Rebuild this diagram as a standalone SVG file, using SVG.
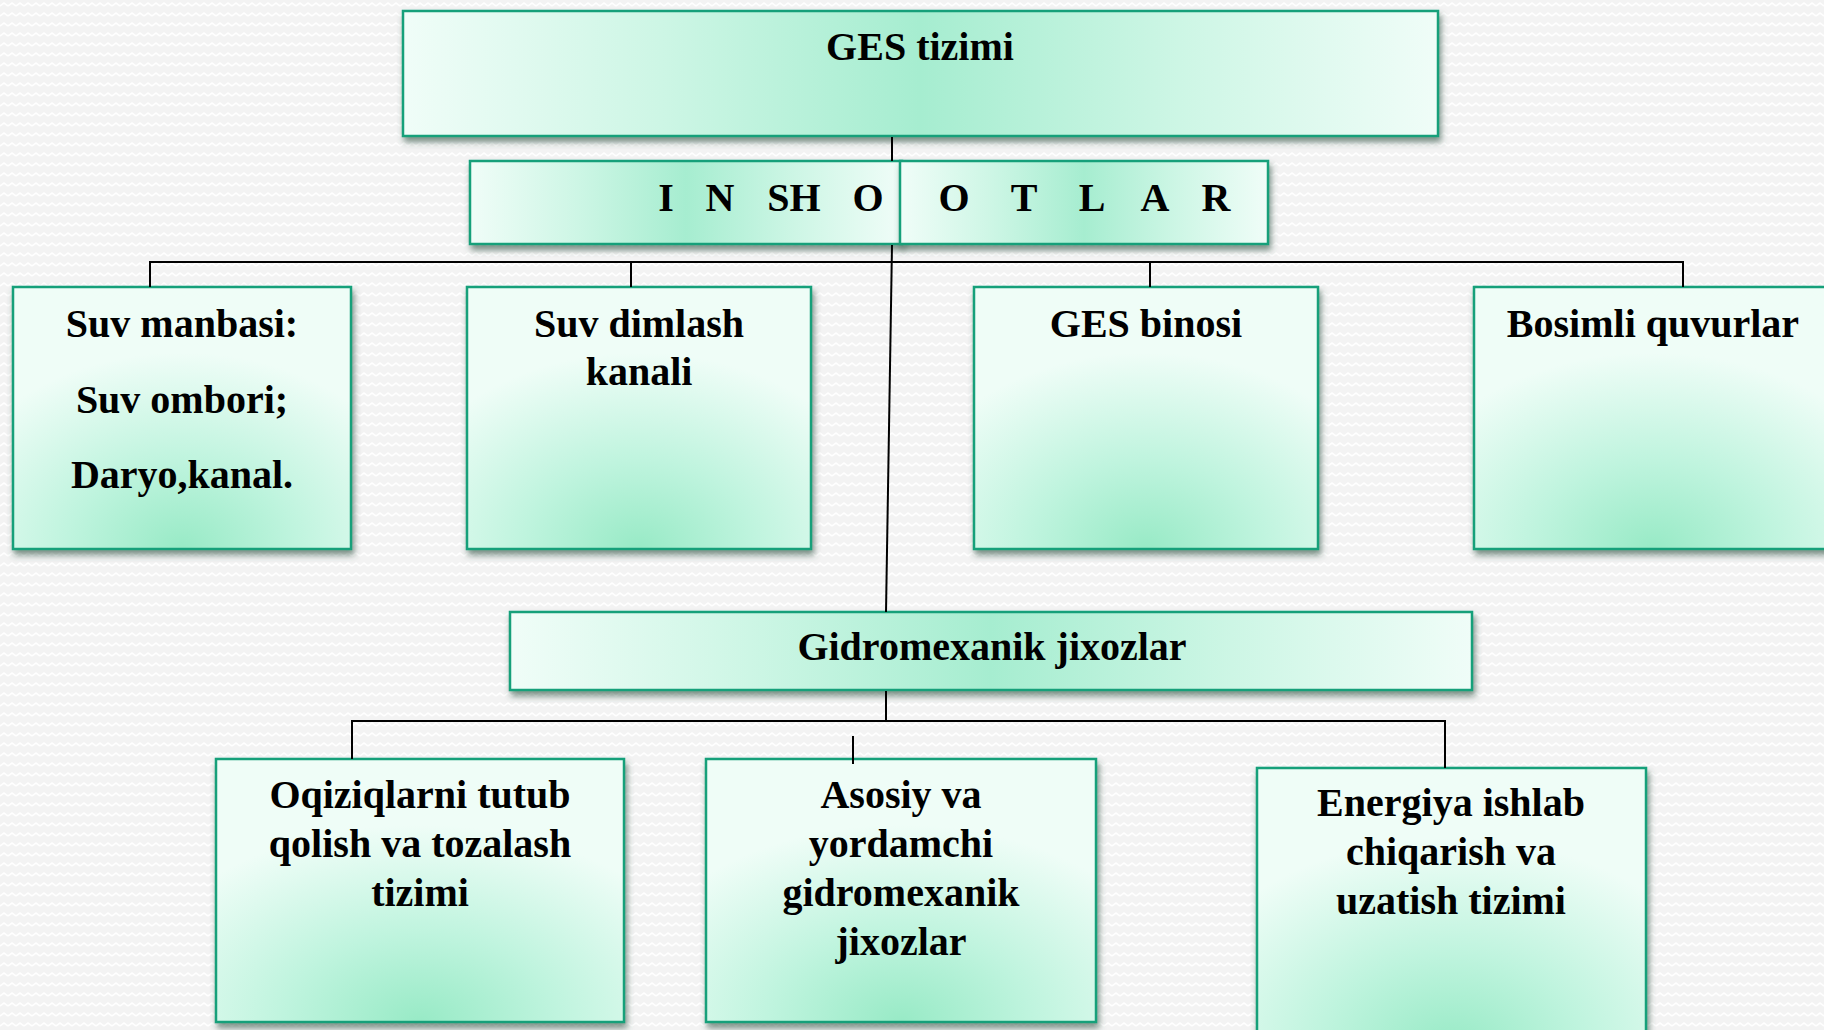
<svg xmlns="http://www.w3.org/2000/svg" width="1824" height="1030" viewBox="0 0 1824 1030">
<defs>
<pattern id="bgp" width="8" height="10" patternUnits="userSpaceOnUse">
<rect width="8" height="10" fill="#f3f3f3"/>
<path d="M0 6 L4 3 L8 6" fill="none" stroke="#ffffff" stroke-width="1.6"/>
</pattern>
<radialGradient id="g" cx="0.5" cy="1" r="0.75" fx="0.5" fy="1">
<stop offset="0" stop-color="#98eac6"/>
<stop offset="0.45" stop-color="#bff4de"/>
<stop offset="1" stop-color="#effdf7"/>
</radialGradient>
<linearGradient id="gw" x1="0" y1="0" x2="1" y2="0">
<stop offset="0" stop-color="#f0fdf8"/>
<stop offset="0.25" stop-color="#cdf6e5"/>
<stop offset="0.5" stop-color="#a6edd0"/>
<stop offset="0.75" stop-color="#cdf6e5"/>
<stop offset="1" stop-color="#f0fdf8"/>
</linearGradient>
<filter id="sh" x="-5%" y="-5%" width="112%" height="125%">
<feDropShadow dx="2" dy="5" stdDeviation="3" flood-color="#3a5a4e" flood-opacity="0.65"/>
</filter>
</defs>
<style>
.box{fill:url(#g);stroke:#16a07a;stroke-width:2.5;filter:url(#sh)}
.wide{fill:url(#gw)}
.t{font-family:"Liberation Serif","Times New Roman",serif;font-weight:bold;font-size:40px;fill:#000;text-anchor:middle}
.c{fill:none;stroke:#000;stroke-width:2}
</style>
<rect width="1824" height="1030" fill="url(#bgp)"/>

<g id="node-ges-tizimi">
<rect class="box wide" x="403" y="11" width="1035" height="125"/>
<text class="t" x="920" y="60">GES tizimi</text>
</g>

<g id="node-inshootlar">
<rect class="box wide" x="470" y="161" width="432" height="83"/>
<text class="t" y="211"><tspan x="666">I</tspan><tspan x="720">N</tspan><tspan x="794">SH</tspan><tspan x="868">O</tspan></text>
<rect class="box wide" x="900" y="161" width="368" height="83"/>
<text class="t" y="211"><tspan x="954">O</tspan><tspan x="1024">T</tspan><tspan x="1092">L</tspan><tspan x="1155">A</tspan><tspan x="1216">R</tspan></text>
</g>

<g id="node-suv-manbasi">
<rect class="box" x="13" y="287" width="338" height="262"/>
<text class="t" x="182" y="337">Suv manbasi:</text>
<text class="t" x="182" y="413">Suv ombori;</text>
<text class="t" x="182" y="488">Daryo,kanal.</text>
</g>

<g id="node-suv-dimlash">
<rect class="box" x="467" y="287" width="344" height="262"/>
<text class="t" x="639" y="337">Suv dimlash</text>
<text class="t" x="639" y="385">kanali</text>
</g>

<g id="node-ges-binosi">
<rect class="box" x="974" y="287" width="344" height="262"/>
<text class="t" x="1146" y="337">GES binosi</text>
</g>

<g id="node-bosimli">
<rect class="box" x="1474" y="287" width="358" height="262"/>
<text class="t" x="1653" y="337">Bosimli quvurlar</text>
</g>

<g id="node-gidromexanik">
<rect class="box wide" x="510" y="612" width="962" height="78"/>
<text class="t" x="992" y="660">Gidromexanik jixozlar</text>
</g>

<g id="node-oqiziqlar">
<rect class="box" x="216" y="759" width="408" height="263"/>
<text class="t" x="420" y="808">Oqiziqlarni tutub</text>
<text class="t" x="420" y="857">qolish va tozalash</text>
<text class="t" x="420" y="906">tizimi</text>
</g>

<g id="node-asosiy">
<rect class="box" x="706" y="759" width="390" height="263"/>
<text class="t" x="901" y="808">Asosiy va</text>
<text class="t" x="901" y="857">yordamchi</text>
<text class="t" x="901" y="906">gidromexanik</text>
<text class="t" x="901" y="955">jixozlar</text>
</g>

<g id="node-energiya">
<rect class="box" x="1257" y="768" width="389" height="280"/>
<text class="t" x="1451" y="816">Energiya ishlab</text>
<text class="t" x="1451" y="865">chiqarish va</text>
<text class="t" x="1451" y="914">uzatish tizimi</text>
</g>

<g id="connectors">
<line class="c" x1="892" y1="137" x2="892" y2="161"/>
<line class="c" x1="892" y1="245" x2="886" y2="612"/>
<polyline class="c" points="150,287 150,262 1683,262 1683,287"/>
<line class="c" x1="631" y1="262" x2="631" y2="287"/>
<line class="c" x1="1150" y1="262" x2="1150" y2="287"/>
<line class="c" x1="886" y1="691" x2="886" y2="721"/>
<polyline class="c" points="352,759 352,721 1445,721 1445,768"/>
<line class="c" x1="853" y1="736" x2="853" y2="764"/>
</g>
</svg>
